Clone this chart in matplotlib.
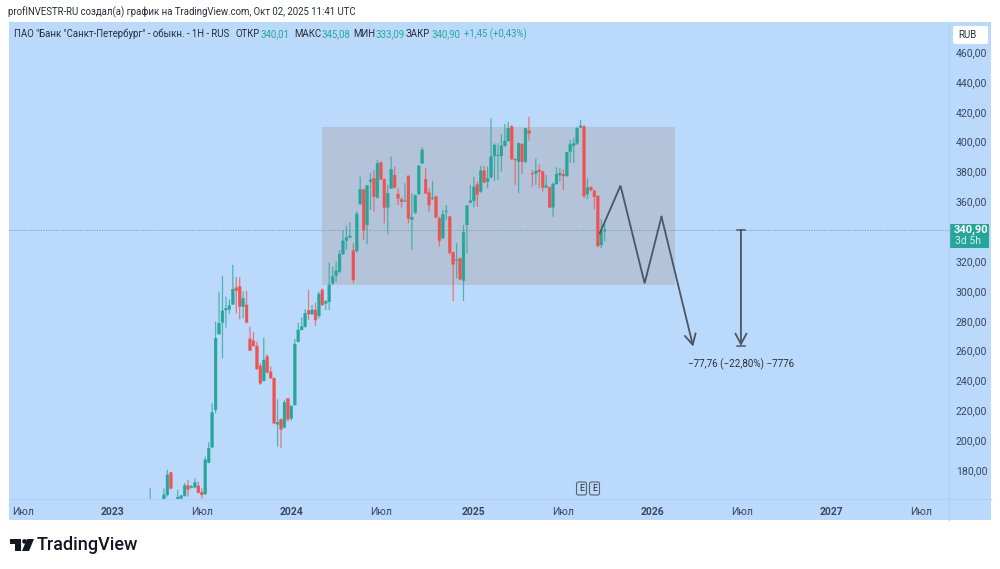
import matplotlib
matplotlib.use("Agg")
import matplotlib.pyplot as plt
import matplotlib.dates as mdates
from matplotlib.patches import Rectangle, FancyBboxPatch, Polygon, Circle
import numpy as np
import pandas as pd

plt.rcParams["font.family"] = ["Roboto", "DejaVu Sans"]

# weekly bars of the ticker, oldest first
first_week = "2023-03-20"
opens = [
    158, 157, 155, 153, 158.5, 163.4, 178.3, 158, 158, 161.1,
    162.7, 169.6, 168.3, 168.5, 169.4, 165.1, 164.0, 185.0, 195.3, 220.3,
    271.2, 279.0, 287.2, 287.7, 291.0, 302.2, 302.9, 289.5, 290.6, 267.8,
    266.5, 263.1, 249.7, 239.9, 256.0, 245.7, 241.5, 210.7, 214.0, 208.7,
    227.9, 214.7, 223.6, 266.0, 273.8, 276.1, 286.8, 284.5, 287.2, 283.2,
    300.6, 291.7, 292.8, 305.1, 310.2, 312.9, 324.7, 333.7, 335.9, 327.0,
    326.8, 358.2, 367.6, 344.2, 373.2, 375.4, 362.5, 385.9, 374.7, 356.0,
    368.7, 377.6, 364.7, 361.3, 360.0, 377.0, 347.7, 352.6, 364.9, 385.5,
    374.7, 365.8, 361.8, 363.1, 348.6, 335.4, 353.3, 349.7, 325.8, 320.3,
    321.8, 306.9, 344.2, 359.1, 360.4, 371.2, 366.5, 380.5, 373.2, 376.1,
    390.4, 390.6, 390.4, 397.1, 400.4, 410.0, 388.3, 386.6, 398.4, 386.6,
    407.3, 378.8, 378.8, 381.0, 379.9, 369.4, 369.4, 356.0, 371.6, 377.6,
    378.1, 377.0, 393.3, 397.3, 398.8, 409.6, 410.0, 364.9, 369.2, 366.9,
    363.6, 330.8, 340.01,
]
highs = [
    167.8, 159, 157, 158, 167.8, 180.1, 178.8, 159, 166.7, 163.3,
    171.2, 173.4, 170.0, 174.5, 172.3, 167.8, 189.0, 198.6, 224.7, 279.4,
    299.5, 310.0, 296.2, 294.4, 317.4, 309.5, 309.1, 299.5, 300.2, 276.1,
    272.3, 266.0, 251.5, 268.7, 257.5, 249.3, 242.0, 227.4, 214.5, 227.0,
    228.1, 223.2, 267.8, 278.8, 282.3, 287.7, 300.6, 290.6, 292.1, 299.5,
    301.7, 293.9, 319.0, 316.3, 319.6, 327.4, 340.8, 343.7, 345.7, 331.9,
    353.1, 376.5, 368.7, 371.0, 378.8, 381.0, 387.7, 386.6, 375.4, 371.0,
    389.9, 383.2, 368.7, 362.7, 372.1, 377.2, 365.4, 364.7, 384.3, 396.2,
    382.1, 368.7, 373.8, 363.6, 349.7, 354.2, 357.5, 350.2, 326.3, 331.9,
    322.3, 344.2, 357.5, 371.0, 376.5, 373.2, 383.7, 383.7, 383.2, 415.6,
    398.8, 398.8, 405.1, 411.8, 413.3, 411.1, 388.5, 399.3, 398.8, 408.9,
    416.7, 381.0, 388.8, 384.8, 380.3, 377.6, 369.8, 372.5, 382.8, 382.1,
    381.4, 393.3, 401.1, 402.2, 410.0, 414.5, 411.1, 375.4, 370.3, 368.0,
    363.6, 348.0, 345.08,
]
lows = [
    157, 154, 152, 151, 157, 162.2, 167, 155, 157, 160,
    162.2, 162.2, 167.8, 167.8, 164.5, 161.1, 163.4, 184.6, 194.6, 218.0,
    270.5, 254.9, 275.4, 284.6, 290.6, 285.0, 281.0, 281.6, 278.3, 259.8,
    262.7, 247.0, 237.0, 239.2, 244.8, 241.5, 210.7, 195.7, 194.6, 208.0,
    212.5, 213.1, 223.2, 265.4, 273.8, 275.4, 280.5, 283.9, 276.5, 281.6,
    290.1, 287.2, 287.2, 304.0, 305.8, 311.8, 324.1, 327.4, 335.2, 305.1,
    325.6, 357.5, 334.1, 331.2, 354.2, 353.1, 362.0, 374.3, 345.3, 337.9,
    368.3, 368.7, 357.5, 356.0, 359.8, 345.3, 327.4, 351.5, 364.2, 385.0,
    364.9, 353.1, 360.9, 348.6, 329.6, 334.6, 347.5, 324.1, 293.3, 308.4,
    307.3, 293.3, 325.2, 358.7, 356.0, 356.4, 365.8, 372.1, 368.7, 375.4,
    373.6, 374.3, 379.9, 396.6, 400.0, 387.7, 371.0, 365.4, 378.3, 385.5,
    400.6, 369.8, 371.0, 368.7, 366.5, 368.7, 355.3, 349.7, 371.0, 373.2,
    367.6, 376.5, 385.9, 385.5, 397.7, 408.9, 362.0, 361.3, 366.5, 354.7,
    329.2, 328.5, 333.09,
]
closes = [
    160, 155, 153, 157, 163.4, 176.7, 167.8, 156, 161.8, 162.7,
    169.6, 167.1, 168.9, 171.6, 164.9, 163.4, 186.8, 194.6, 218.5, 268.3,
    278.3, 286.6, 288.3, 290.1, 301.1, 300.2, 289.5, 295.0, 279.0, 260.0,
    263.1, 247.7, 238.1, 253.7, 245.5, 241.5, 211.3, 212.0, 207.3, 225.2,
    214.0, 222.9, 264.2, 273.8, 276.1, 285.0, 284.5, 287.2, 280.5, 297.9,
    290.6, 292.8, 304.0, 309.6, 313.4, 324.7, 333.4, 335.9, 336.8, 307.3,
    351.5, 368.0, 340.8, 370.5, 374.3, 363.1, 385.4, 374.7, 356.0, 365.4,
    381.4, 369.4, 362.0, 359.8, 360.4, 348.6, 349.3, 363.8, 383.7, 394.4,
    365.4, 357.5, 362.2, 349.3, 333.7, 351.3, 353.5, 325.6, 317.8, 320.7,
    307.8, 339.0, 357.1, 360.4, 369.6, 364.7, 380.5, 372.7, 375.4, 389.9,
    397.7, 391.0, 397.1, 400.4, 408.9, 388.3, 387.7, 398.8, 386.6, 408.9,
    405.5, 378.3, 380.3, 379.9, 369.4, 370.5, 356.0, 371.6, 378.1, 378.8,
    377.0, 392.8, 398.0, 398.8, 408.9, 410.5, 363.6, 369.2, 367.6, 363.1,
    330.1, 339.7, 340.90,
]

# price and time scales
price_ticks = [180, 200, 220, 240, 260, 280, 300, 320, 360, 380, 400, 420, 440, 460]
time_ticks = ["2022-07-04", "2023-01-02", "2023-07-03", "2024-01-01", "2024-07-01", "2025-01-06",
              "2025-07-07", "2026-01-05", "2026-07-06", "2027-01-04", "2027-07-05"]
time_labels = ["Июл", "2023", "Июл", "2024", "Июл", "2025", "Июл", "2026", "Июл", "2027", "Июл"]

# drawings on top of the bars
last_price = 340.90
range_box = ("2024-03-04", "2026-02-19", 304.0, 409.8)
path_weeks = [130.6, 136.6, 143.6, 148.5, 157.7]
path_prices = [338.7, 370.5, 305.1, 349.7, 262.7]
ruler_date = "2026-07-03"
ruler_change = -77.76
ruler_text = "−77,76 (−22,80%) −7776"

BG = "#BBDAFB"
UP = "#26A69A"
DOWN = "#EF5350"
PEN = "#4C5563"
INK = "#2A2E39"

fig = plt.figure(figsize=(10, 5.69), dpi=100, facecolor="white")

# page layer in pixel coordinates for the panel, header and logo
page = fig.add_axes([0, 0, 1, 1], zorder=0)
page.set_xlim(0, 1000)
page.set_ylim(569, 0)
page.axis("off")
page.add_patch(Rectangle((9, 22), 982, 498, facecolor=BG, edgecolor="none"))
page.plot([949, 949], [22, 520], color="#AFD1F7", lw=1)
page.plot([9, 991], [499, 499], color="#AFD1F7", lw=1)

page.text(8, 12, "profINVESTR-RU создал(а) график на TradingView.com, Окт 02, 2025 11:41 UTC",
          fontsize=6.9, color=INK, va="center")

legend_parts = [
    (14.5, 'ПАО "Банк "Санкт-Петербург" - обыкн. - 1Н - RUS', INK),
    (236, "ОТКР", INK), (260, "340,01", UP),
    (294, "МАКС", INK), (321, "345,08", UP),
    (353, "МИН", INK), (375, "333,09", UP),
    (406, "ЗАКР", INK), (431, "340,90", UP),
    (464, "+1,45 (+0,43%)", UP),
]
for px, label, col in legend_parts:
    page.text(px, 34, label, fontsize=6.9, color=col, va="center")

# currency button and last price tag on the price scale
page.add_patch(FancyBboxPatch((953, 26), 35, 18, boxstyle="round,pad=0,rounding_size=2",
                              facecolor="white", edgecolor="none"))
page.text(967.5, 35, "RUB", fontsize=7, color=INK, ha="center", va="center")
page.add_patch(Rectangle((949, 224), 40, 24, facecolor=UP, edgecolor="none"))
page.text(971, 230, "340,90", fontsize=8, color="white", fontweight="bold", ha="center", va="center")
page.text(968, 241, "3d 5h", fontsize=7.5, color="#D5F0EC", ha="center", va="center")

# earnings markers
for px in (581.5, 594.5):
    page.add_patch(FancyBboxPatch((px - 5, 482), 10, 13, boxstyle="round,pad=0,rounding_size=2",
                                  facecolor=BG, edgecolor="#5A6270", lw=0.8))
    page.text(px, 488.5, "E", fontsize=6.5, color=INK, ha="center", va="center")

# logo
page.add_patch(Polygon([(10, 539), (21, 539), (21, 551), (15, 551), (15, 544), (10, 544)], color="#131722", lw=0))
page.add_patch(Circle((24.5, 541.4), 2.3, color="#131722", lw=0))
page.add_patch(Polygon([(27, 539), (34, 539), (29, 551), (22, 551)], color="#131722", lw=0))
page.text(37, 545, "TradingView", fontsize=13, color="#131722", fontweight="medium", va="center")

# main chart area
ax = fig.add_axes([9 / 1000, 70 / 569, 940 / 1000, 477 / 569], zorder=1)
ax.patch.set_alpha(0)
for side in ax.spines.values():
    side.set_visible(False)

weeks = pd.date_range(first_week, periods=len(closes), freq="7D")
x = mdates.date2num(weeks.to_pydatetime())
o = np.array(opens)
h = np.array(highs)
l = np.array(lows)
c = np.array(closes)
colors = [UP if b >= a else DOWN for a, b in zip(o, c)]

box_left, box_right = mdates.date2num(pd.to_datetime(list(range_box[:2])).to_pydatetime())
ax.add_patch(Rectangle((box_left, range_box[2]), box_right - box_left, range_box[3] - range_box[2],
                       facecolor="#B3C4DA", edgecolor="none", zorder=1))

ax.axhline(last_price, color="#6F9AA5", lw=0.7, ls=(0, (1, 1.5)), zorder=2)

# snapping off keeps the narrow bars evenly spaced
wicks = ax.vlines(x, l, h, colors=colors, lw=0.9, alpha=0.75, zorder=3)
wicks.set_snap(False)
bars = ax.bar(x, np.abs(c - o), bottom=np.minimum(o, c), width=5.6, color=colors, edgecolor=colors, lw=0.3, zorder=4)
for bar in bars:
    bar.set_snap(False)

# projected path with an arrow on its last leg
path_x = x[0] + np.array(path_weeks) * 7
ax.plot(path_x[:-1], path_prices[:-1], color=PEN, lw=1.3, zorder=5, solid_joinstyle="miter")
ax.annotate("", xy=(path_x[-1], path_prices[-1]), xytext=(path_x[-2], path_prices[-2]), zorder=5,
            arrowprops=dict(arrowstyle="->,head_length=0.75,head_width=0.4", color=PEN, lw=1.3,
                            shrinkA=0, shrinkB=0))

# price range ruler
ruler_x = mdates.date2num(pd.Timestamp(ruler_date).to_pydatetime())
ruler_end = last_price + ruler_change
ax.annotate("", xy=(ruler_x, ruler_end), xytext=(ruler_x, last_price), zorder=5,
            arrowprops=dict(arrowstyle="->,head_length=0.75,head_width=0.4", color=PEN, lw=1.3,
                            shrinkA=0, shrinkB=0))
ax.plot([ruler_x - 8, ruler_x + 8], [last_price, last_price], color=PEN, lw=1.1, zorder=5)
ax.plot([ruler_x - 8, ruler_x + 8], [ruler_end, ruler_end], color=PEN, lw=1.1, zorder=5)
ax.annotate(ruler_text, xy=(ruler_x, ruler_end), xytext=(0, -13), textcoords="offset points",
            ha="center", va="center", fontsize=7.1, color=INK, zorder=6)

ax.set_xlim(mdates.date2num(pd.Timestamp("2022-06-06").to_pydatetime()),
            mdates.date2num(pd.Timestamp("2027-08-30").to_pydatetime()))
ax.set_ylim(160.6, 480.1)

ax.yaxis.tick_right()
ax.set_yticks(price_ticks)
ax.set_yticklabels([f"{p},00" for p in price_ticks], fontsize=7.6, color="#3A4560")
ax.tick_params(axis="y", length=0, pad=5)

ax.set_xticks(mdates.date2num(pd.to_datetime(time_ticks).to_pydatetime()))
ax.set_xticklabels(time_labels, fontsize=7.5, color="#3A4560")
ax.tick_params(axis="x", length=0, pad=6)
for label in ax.get_xticklabels():
    if label.get_text().isdigit():
        label.set_fontweight("bold")

fig.savefig("out.png", dpi=100)
